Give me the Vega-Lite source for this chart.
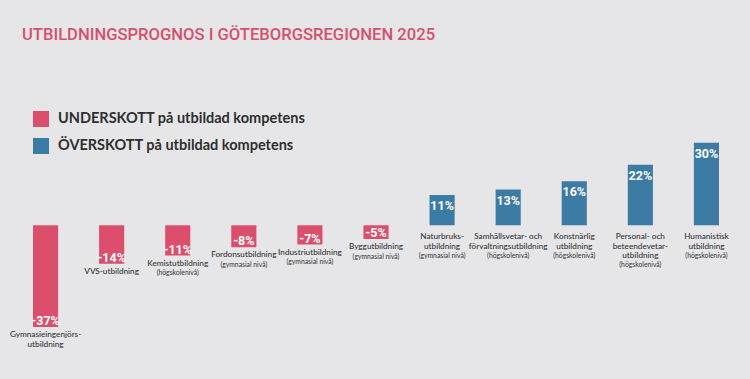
{
  "$schema": "https://vega.github.io/schema/vega-lite/v6.json",
  "width": 686,
  "height": 220,
  "autosize": {"type": "none"},
  "padding": {"left": 33, "top": 129, "right": 31, "bottom": 30},
  "background": "#E6E6E8",
  "title": {
    "text": "UTBILDNINGSPROGNOS I GÖTEBORGSREGIONEN 2025",
    "anchor": "start",
    "frame": "group",
    "dx": -11,
    "offset": 67,
    "font": "Roboto",
    "fontSize": 16.6,
    "fontWeight": 500,
    "color": "#D6506B"
  },
  "config": {"view": {"stroke": null}},
  "data": {
    "values": [
      {"kat": "Gymnasieingenjörsutbildning", "varde": -37, "typ": "UNDERSKOTT på utbildad kompetens", "etikett": ["Gymnasieingenjörs-", "utbildning"], "niva": ""},
      {"kat": "VVS-utbildning", "varde": -14, "typ": "UNDERSKOTT på utbildad kompetens", "etikett": ["VVS-utbildning"], "niva": ""},
      {"kat": "Kemistutbildning", "varde": -11, "typ": "UNDERSKOTT på utbildad kompetens", "etikett": ["Kemistutbildning"], "niva": "(högskolenivå)"},
      {"kat": "Fordonsutbildning", "varde": -8, "typ": "UNDERSKOTT på utbildad kompetens", "etikett": ["Fordonsutbildning"], "niva": "(gymnasial nivå)"},
      {"kat": "Industriutbildning", "varde": -7, "typ": "UNDERSKOTT på utbildad kompetens", "etikett": ["Industriutbildning"], "niva": "(gymnasial nivå)"},
      {"kat": "Byggutbildning", "varde": -5, "typ": "UNDERSKOTT på utbildad kompetens", "etikett": ["Byggutbildning"], "niva": "(gymnasial nivå)"},
      {"kat": "Naturbruksutbildning", "varde": 11, "typ": "ÖVERSKOTT på utbildad kompetens", "etikett": ["Naturbruks-", "utbildning"], "niva": "(gymnasial nivå)"},
      {"kat": "Samhällsvetar- och förvaltningsutbildning", "varde": 13, "typ": "ÖVERSKOTT på utbildad kompetens", "etikett": ["Samhällsvetar- och", "förvaltningsutbildning"], "niva": "(högskolenivå)"},
      {"kat": "Konstnärlig utbildning", "varde": 16, "typ": "ÖVERSKOTT på utbildad kompetens", "etikett": ["Konstnärlig", "utbildning"], "niva": "(högskolenivå)"},
      {"kat": "Personal- och beteendevetarutbildning", "varde": 22, "typ": "ÖVERSKOTT på utbildad kompetens", "etikett": ["Personal- och", "beteendevetar-", "utbildning"], "niva": "(högskolenivå)"},
      {"kat": "Humanistisk utbildning", "varde": 30, "typ": "ÖVERSKOTT på utbildad kompetens", "etikett": ["Humanistisk", "utbildning"], "niva": "(högskolenivå)"}
    ]
  },
  "transform": [
    {"calculate": "datum.varde + '%'", "as": "vardeText"},
    {"calculate": "min(datum.varde, 0)", "as": "etikettY"},
    {"calculate": "length(datum.etikett)", "as": "rader"}
  ],
  "encoding": {
    "x": {"field": "kat", "type": "nominal", "sort": null, "axis": null, "scale": {"paddingInner": 0.62, "paddingOuter": 0}}
  },
  "layer": [
    {
      "mark": {"type": "bar"},
      "encoding": {
        "y": {"field": "varde", "type": "quantitative", "axis": null, "scale": {"domain": [-45, 35], "nice": false, "zero": false}},
        "color": {
          "field": "typ", "type": "nominal",
          "scale": {"domain": ["UNDERSKOTT på utbildad kompetens", "ÖVERSKOTT på utbildad kompetens"], "range": ["#DC4F6C", "#3B7BA4"]},
          "legend": {
            "title": null, "orient": "none", "legendX": 0, "legendY": -18, "padding": 0,
            "symbolType": "square", "symbolSize": 256, "symbolStrokeWidth": 0, "symbolOpacity": 1,
            "labelFontSize": 14.5, "labelFont": "Lato", "labelFontWeight": "bold", "labelColor": "#2E2E2E",
            "labelOffset": 9, "rowPadding": 11, "labelLimit": 400, "direction": "vertical"
          }
        }
      }
    },
    {
      "mark": {"type": "rule", "color": "#9FCB74", "strokeWidth": 3},
      "encoding": {"y": {"datum": 0}}
    },
    {
      "transform": [{"filter": "datum.varde > 0"}],
      "mark": {"type": "text", "baseline": "top", "dy": 5, "fontSize": 12.5, "fontWeight": "bold", "font": "Roboto", "color": "white"},
      "encoding": {
        "y": {"field": "varde", "type": "quantitative"},
        "text": {"field": "vardeText"}
      }
    },
    {
      "transform": [{"filter": "datum.varde < 0"}],
      "mark": {"type": "text", "baseline": "alphabetic", "dy": -2, "fontSize": 12.5, "fontWeight": "bold", "font": "Roboto", "color": "white"},
      "encoding": {
        "y": {"field": "varde", "type": "quantitative"},
        "text": {"field": "vardeText"}
      }
    },
    {
      "transform": [{"filter": "datum.varde < 0"}],
      "mark": {"type": "text", "baseline": "top", "dy": 4, "fontSize": 8.2, "lineHeight": 9.5, "font": "Lato", "fontWeight": 500, "color": "#333333"},
      "encoding": {
        "y": {"field": "etikettY", "type": "quantitative"},
        "text": {"field": "etikett"}
      }
    },
    {
      "transform": [{"filter": "datum.varde > 0"}],
      "mark": {"type": "text", "baseline": "top", "dy": 8, "fontSize": 8.2, "lineHeight": 9.5, "font": "Lato", "fontWeight": 500, "color": "#333333"},
      "encoding": {
        "y": {"field": "etikettY", "type": "quantitative"},
        "text": {"field": "etikett"}
      }
    },
    {
      "transform": [{"filter": "datum.varde < 0 && datum.niva != ''"}],
      "mark": {"type": "text", "baseline": "middle", "dy": 17.5, "fontSize": 6.8, "font": "Lato", "color": "#333333"},
      "encoding": {
        "y": {"field": "etikettY", "type": "quantitative"},
        "text": {"field": "niva"}
      }
    },
    {
      "transform": [{"filter": "datum.varde > 0 && datum.rader == 2"}],
      "mark": {"type": "text", "baseline": "middle", "dy": 31, "fontSize": 6.8, "font": "Lato", "color": "#333333"},
      "encoding": {
        "y": {"field": "etikettY", "type": "quantitative"},
        "text": {"field": "niva"}
      }
    },
    {
      "transform": [{"filter": "datum.varde > 0 && datum.rader == 3"}],
      "mark": {"type": "text", "baseline": "middle", "dy": 40, "fontSize": 6.8, "font": "Lato", "color": "#333333"},
      "encoding": {
        "y": {"field": "etikettY", "type": "quantitative"},
        "text": {"field": "niva"}
      }
    }
  ]
}
